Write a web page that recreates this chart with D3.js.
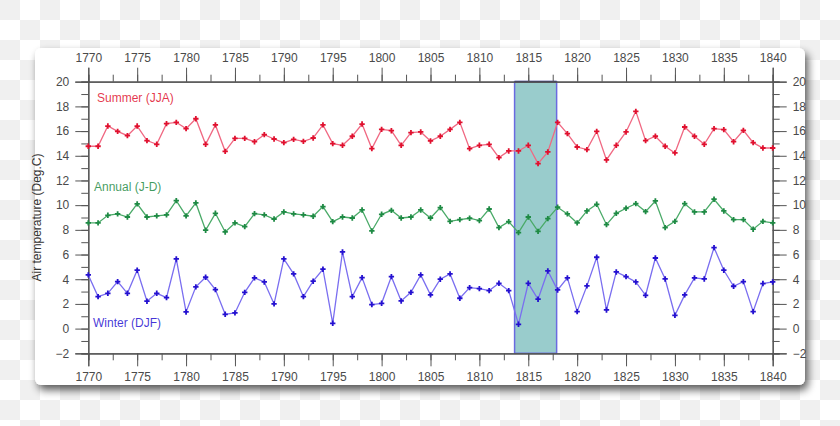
<!DOCTYPE html>
<html><head><meta charset="utf-8">
<script src="https://cdn.jsdelivr.net/npm/d3@7"></script>
<style>html,body{margin:0;padding:0;background:#fff;}svg{display:block;}</style>
</head><body>
<svg id="c" width="840" height="426"></svg>
<script>
const years = d3.range(1770, 1841);
const summer = [14.77,14.77,16.41,15.98,15.63,16.41,15.23,14.93,16.6,16.71,16.2,17.0,14.93,16.5,14.36,15.41,15.41,15.14,15.71,15.36,15.06,15.33,15.17,15.44,
16.5,14.98,14.85,15.58,16.57,14.58,16.14,16.03,14.85,15.87,15.93,15.2,15.58,16.14,16.71,14.58,14.85,14.93,13.85,14.39,14.39,14.85,13.36,
14.31,16.71,15.79,14.71,14.5,15.98,13.66,14.85,15.93,17.6,15.23,15.58,14.77,14.23,16.33,15.58,14.93,16.2,16.12,15.14,16.06,15.06,14.63,14.63];
const annual = [8.56,8.56,9.18,9.29,9.04,10.1,9.04,9.13,9.21,10.37,9.13,10.18,7.97,9.34,7.83,8.56,8.26,9.31,9.21,8.88,9.45,9.29,9.21,9.1,
9.88,8.67,9.04,8.96,9.61,7.91,9.26,9.58,8.96,9.04,9.61,8.96,9.8,8.69,8.83,8.94,8.75,9.69,8.18,8.67,7.78,9.04,7.88,
8.91,9.83,9.29,8.56,9.53,10.07,8.42,9.34,9.75,10.12,9.48,10.34,8.18,8.69,10.12,9.45,9.45,10.48,9.53,8.83,8.83,8.05,8.69,8.56];
const winter = [4.35,2.59,2.86,3.81,2.86,4.73,2.22,2.86,2.51,5.64,1.35,3.38,4.16,3.16,1.16,1.27,2.94,4.11,3.78,2.0,5.64,4.43,2.59,3.84,
4.81,0.43,6.21,2.59,4.13,1.95,2.05,4.21,2.24,2.94,4.35,2.73,4.0,4.43,2.46,3.32,3.24,3.08,3.67,3.08,0.35,3.67,2.38,
4.67,3.13,4.11,1.38,3.46,5.78,1.51,4.59,4.21,3.78,2.7,5.72,4.02,1.08,2.73,4.11,4.02,6.56,4.73,3.43,3.81,1.38,3.65,3.78];
const xTicks = d3.range(1770, 1841, 5);
const yTicks = d3.range(-2, 21, 2);
const highlight = [1813.6, 1817.9];
const seriesNames = ["Summer (JJA)", "Annual (J-D)", "Winter (DJF)"];

const svg = d3.select("#c");
const defs = svg.append("defs");
const pat = defs.append("pattern").attr("id","chk").attr("width",40).attr("height",40).attr("patternUnits","userSpaceOnUse");
pat.append("rect").attr("width",40).attr("height",40).attr("fill","#ffffff");
pat.append("rect").attr("width",20).attr("height",20).attr("fill","#f0f0f0");
pat.append("rect").attr("x",20).attr("y",20).attr("width",20).attr("height",20).attr("fill","#f0f0f0");
svg.append("rect").attr("width",840).attr("height",426).attr("fill","url(#chk)");
const flt = defs.append("filter").attr("id","sh").attr("x","-10%").attr("y","-10%").attr("width","120%").attr("height","130%");
flt.append("feGaussianBlur").attr("in","SourceAlpha").attr("stdDeviation",4);
flt.append("feOffset").attr("dx",3).attr("dy",5).attr("result","b");
flt.append("feComponentTransfer").append("feFuncA").attr("type","linear").attr("slope",0.65);
const m = flt.append("feMerge"); m.append("feMergeNode"); m.append("feMergeNode").attr("in","SourceGraphic");
svg.append("rect").attr("x",35).attr("y",48).attr("width",770).attr("height",337).attr("rx",6)
  .attr("fill","#fff").attr("filter","url(#sh)");

const x = d3.scaleLinear().domain([1770,1840]).range([88.3,772.7]);
const y = d3.scaleLinear().domain([-2,20]).range([353.3,81.7]);
const g = svg.append("g");
const font = "'Liberation Sans', Arial, sans-serif";
const tickCol = "#555", txtCol = "#4a4a4a";

g.append("rect").attr("x",x(highlight[0])).attr("y",y(20)).attr("width",x(highlight[1])-x(highlight[0])).attr("height",y(-2)-y(20))
  .attr("fill","#99cccc").attr("stroke","#6a6ae0").attr("stroke-width",1.5);
g.append("line").attr("x1",x(highlight[0])).attr("x2",x(highlight[1])).attr("y1",y(20)).attr("y2",y(20)).attr("stroke","#22227a").attr("stroke-width",2);

function styleAxis(sel){
  sel.selectAll("path").attr("stroke",tickCol);
  sel.selectAll("line").attr("stroke",tickCol);
  sel.selectAll("text").attr("fill",txtCol).attr("font-family",font).attr("font-size",12);
}
const minorX = d3.range(1770, 1841, 2.5);
const minorY = d3.range(-2, 21, 1);
const aT = g.append("g").attr("transform",`translate(0,${y(20)})`);
aT.call(d3.axisTop(x).tickValues(minorX).tickSize(7).tickFormat("")).call(styleAxis);
aT.append("g").call(d3.axisTop(x).tickValues(xTicks).tickSize(14).tickPadding(6).tickFormat(d3.format("d"))).call(styleAxis);
const aB = g.append("g").attr("transform",`translate(0,${y(-2)})`);
aB.call(d3.axisBottom(x).tickValues(minorX).tickSize(7).tickFormat("")).call(styleAxis);
aB.append("g").call(d3.axisBottom(x).tickValues(xTicks).tickSize(13).tickPadding(6).tickFormat(d3.format("d"))).call(styleAxis);
const aL = g.append("g").attr("transform",`translate(${x(1770)},0)`);
aL.call(d3.axisLeft(y).tickValues(minorY).tickSize(7).tickFormat("")).call(styleAxis);
aL.append("g").call(d3.axisLeft(y).tickValues(yTicks).tickSize(13).tickPadding(6)).call(styleAxis);
const aR = g.append("g").attr("transform",`translate(${x(1840)},0)`);
aR.call(d3.axisRight(y).tickValues(minorY).tickSize(7).tickFormat("")).call(styleAxis);
aR.append("g").call(d3.axisRight(y).tickValues(yTicks).tickSize(14).tickPadding(6)).call(styleAxis);
g.selectAll(".domain").attr("stroke","#555").attr("stroke-width",1.2);

g.append("text").attr("transform",`translate(41,${(y(20)+y(-2))/2}) rotate(-90)`).attr("text-anchor","middle")
  .attr("font-family",font).attr("font-size",12).attr("fill","#333").text("Air temperature (Deg.C)");

const series = [
  {name:seriesNames[0], vals:summer, line:"#f06882", mark:"#e0102e", lx:97, ly:98},
  {name:seriesNames[1], vals:annual, line:"#4aaa68", mark:"#1e8a44", lx:94, ly:187},
  {name:seriesNames[2], vals:winter, line:"#7a6ef0", mark:"#2410d0", lx:93, ly:323}
];
const line = d3.line().x((d,i)=>x(years[i])).y(d=>y(d));
series.forEach(s=>{
  g.append("path").datum(s.vals).attr("d",line).attr("fill","none").attr("stroke",s.line).attr("stroke-width",1.3);
  g.append("g").selectAll("path").data(s.vals).join("path")
    .attr("d",d3.symbol(d3.symbolCross,16)())
    .attr("transform",(d,i)=>`translate(${x(years[i])},${y(d)})`).attr("fill",s.mark);
  g.append("text").attr("x",s.lx).attr("y",s.ly).attr("dy","0.35em").attr("font-family",font).attr("font-size",12)
    .attr("fill",s.mark).attr("fill-opacity",0.85).text(s.name);
});
</script>
</body></html>
